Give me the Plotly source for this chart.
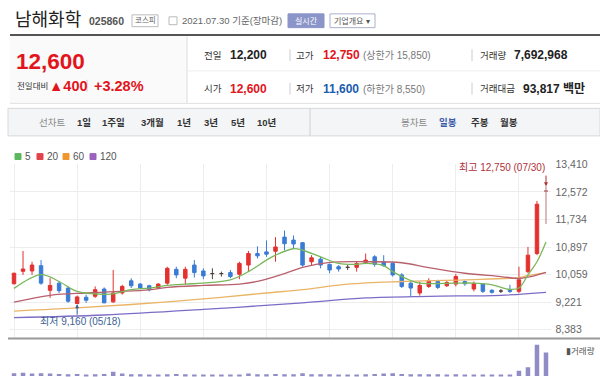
import plotly.graph_objects as go

# ---------------- data ----------------
dates = ["05/07","05/10","05/11","05/12","05/13","05/14","05/17","05/18","05/20","05/21",
         "05/24","05/25","05/26","05/27","05/28","05/31","06/01","06/02","06/03","06/04",
         "06/07","06/08","06/09","06/10","06/11","06/14","06/15","06/16","06/17","06/18",
         "06/21","06/22","06/23","06/24","06/25","06/28","06/29","06/30","07/01","07/02",
         "07/05","07/06","07/07","07/08","07/09","07/12","07/13","07/14","07/15","07/16",
         "07/19","07/20","07/21","07/22","07/23","07/26","07/27","07/28","07/29","07/30"]

opens  = [9780,10160,10170,10330,9580,9800,9650,9180,9370,9400,
          9620,9230,9500,9870,9770,9720,9650,9800,10220,9950,
          10350,10170,10090,10090,10120,10070,10350,10700,10750,10770,
          11200,11110,11030,10450,10530,10370,10300,10280,10280,10430,
          10600,10450,10400,10050,9800,9500,9700,9850,9720,9770,
          9850,9620,9780,9580,9560,9580,9550,10150,10700,12600]
highs  = [10120,10780,10450,10500,9950,9850,9700,9420,9450,9700,
          9670,10200,9750,9950,9800,9750,9800,10300,10300,10300,
          10500,10250,10250,10150,10200,10450,10780,10920,11100,11200,
          11400,11250,11050,10650,10600,10400,10350,10350,10450,10700,
          10650,10650,10450,10100,9850,9850,9950,9900,9870,10080,
          9880,9850,9800,9620,9620,9750,10300,10900,12300,12750]
lows   = [9760,10050,10050,9750,9350,9500,9200,9160,9200,9350,
          9190,9200,9450,9650,9620,9550,9620,9750,9950,9750,
          9970,9920,9920,10000,9950,9920,10150,10550,10600,10450,
          10800,10850,10300,10350,10250,10100,10150,10200,10150,10400,
          10300,10300,10000,9650,9400,9420,9650,9620,9680,9700,
          9720,9550,9500,9480,9500,9500,9500,10100,10650,11600]
closes = [10100,10230,10350,9800,9730,9570,9250,9380,9280,9600,
          9200,9500,9700,9720,9650,9600,9770,10250,10050,10220,
          10120,10020,10090,10090,10000,10400,10700,10630,10680,10900,
          11000,10990,10350,10570,10350,10200,10230,10280,10400,10500,
          10370,10330,10050,9700,9650,9730,9870,9670,9820,10000,
          9780,9790,9550,9520,9560,9550,9900,10650,12200,12600]
volumes = [0.9,1.1,0.8,0.9,0.8,0.7,0.6,0.7,0.5,0.6,
           0.7,1.4,0.8,0.6,0.6,0.5,0.5,0.6,0.7,0.6,
           0.5,0.5,0.4,0.4,0.5,0.5,0.8,0.6,0.6,0.7,
           0.6,0.6,0.9,0.6,0.6,0.6,0.5,0.5,0.5,0.6,
           0.7,0.8,0.9,0.7,0.6,0.6,0.6,0.6,0.5,0.6,
           0.5,0.5,0.5,0.5,0.4,0.5,1.75,2.9,10.2,7.69]   # millions of shares

# moving averages: (date, value)
ma5_dates  = ["05/07","05/12","05/14","05/18","05/24","05/25","05/27","05/31","06/02","06/04",
              "06/08","06/11","06/15","06/17","06/18","06/22","06/23","06/25","06/29","07/01",
              "07/02","07/06","07/07","07/09","07/12","07/16","07/20","07/22","07/26","07/27",
              "07/28","07/29","07/30"]
ma5_vals   = [9640,10060,9850,9550,9460,9470,9600,9650,9730,9770,
              9800,9900,10150,10500,10650,10845,10800,10600,10400,10370,
              10400,10330,10150,9880,9800,9800,9800,9750,9610,9650,
              10050,10450,11050]
ma20_dates = ["05/07","05/13","05/20","05/25","05/31","06/02","06/08","06/14","06/16","06/21",
              "06/23","06/28","07/02","07/08","07/13","07/19","07/23","07/27","07/28","07/30"]
ma20_vals  = [9220,9430,9500,9540,9595,9670,9730,9770,9850,10090,
              10280,10430,10450,10420,10270,10100,10000,9940,9980,10130]
ma60_dates = ["05/07","05/17","05/27","06/08","06/17","06/23","06/30","07/08","07/19","07/27","07/28","07/30"]
ma60_vals  = [8950,9030,9150,9320,9500,9600,9770,9850,9900,9970,10030,10120]
ma120_dates = ["05/07","05/24","06/08","06/23","07/02","07/13","07/23","07/30"]
ma120_vals  = [8750,8830,9000,9200,9350,9400,9430,9520]

price_ticks = [8383, 9221, 10059, 10897, 11734, 12572, 13410]
price_tick_labels = ["8,383", "9,221", "10,059", "10,897", "11,734", "12,572", "13,410"]
grid_dates = ["05/07","05/18","05/28","06/08","06/17","06/28","07/07","07/16","07/27"]

# ---------------- helpers ----------------
W, H = 600, 377
def px(x): return x / W
def py(y): return 1 - y / H

KFONT = "Liberation Sans, Noto Sans CJK KR, sans-serif"
UP, DOWN, DOJI, TODAY = "#e3312f", "#3a7bd5", "#4f4040", "#b97878"

fig = go.Figure()

def split(mask):
    return dict(x=[d for d, m in zip(dates, mask) if m],
                open=[v for v, m in zip(opens, mask) if m],
                high=[v for v, m in zip(highs, mask) if m],
                low=[v for v, m in zip(lows, mask) if m],
                close=[v for v, m in zip(closes, mask) if m])

last = len(dates) - 1
up_mask = [c > o and i != last for i, (o, c) in enumerate(zip(opens, closes))]
dn_mask = [c < o and i != last for i, (o, c) in enumerate(zip(opens, closes))]
dj_mask = [c == o and i != last for i, (o, c) in enumerate(zip(opens, closes))]
td_mask = [i == last for i in range(len(dates))]
for mask, col in ((up_mask, UP), (dn_mask, DOWN), (dj_mask, DOJI), (td_mask, TODAY)):
    fig.add_trace(go.Candlestick(**split(mask), xaxis="x", yaxis="y",
                                 increasing=dict(line=dict(color=col, width=1), fillcolor=col),
                                 decreasing=dict(line=dict(color=col, width=1), fillcolor=col),
                                 showlegend=False, hoverinfo="skip"))

for xs, ys, col in ((ma120_dates, ma120_vals, "#7d6cc6"),
                    (ma60_dates, ma60_vals, "#eab467"),
                    (ma20_dates, ma20_vals, "#b9606e"),
                    (ma5_dates, ma5_vals, "#79b85a")):
    fig.add_trace(go.Scatter(x=xs, y=ys, mode="lines", line=dict(color=col, width=1.3, shape="spline"),
                             xaxis="x", yaxis="y", showlegend=False, hoverinfo="skip"))

fig.add_trace(go.Bar(x=dates, y=volumes, marker=dict(color="#8f8cc6", line=dict(width=0)),
                     width=0.5, xaxis="x2", yaxis="y2", showlegend=False, hoverinfo="skip"))

x_dom = [px(9.5), px(550.5)]
fig.update_layout(
    width=W, height=H, margin=dict(l=0, r=0, t=0, b=0),
    paper_bgcolor="white", plot_bgcolor="white",
    font=dict(family=KFONT, color="#333"),
    boxgap=0.45,
    xaxis=dict(domain=x_dom, type="category", categoryorder="array", categoryarray=dates,
               range=[-0.5, len(dates) - 0.5], rangeslider=dict(visible=False),
               tickvals=grid_dates, showticklabels=False, showgrid=True, gridcolor="#ededed",
               gridwidth=1, zeroline=False, showline=False, ticks=""),
    yaxis=dict(domain=[py(338), py(161)], range=[8112, 13410], side="right",
               tickvals=price_ticks, ticktext=price_tick_labels, showgrid=True, gridcolor="#ededed",
               tickfont=dict(size=10.5, color="#666"), ticks="", zeroline=False, showline=False,
               ticklabelstandoff=4),
    xaxis2=dict(domain=x_dom, type="category", categoryorder="array", categoryarray=dates,
                range=[-0.5, len(dates) - 0.5], matches="x", showticklabels=False, showgrid=False,
                zeroline=False, ticks=""),
    yaxis2=dict(domain=[0, py(343)], range=[-0.3, 10.6], showticklabels=False, showgrid=False,
                zeroline=False, ticks="", anchor="x2"),
)

shapes = []
ann = []
def text(x, y, s, size=11, color="#333", bold=False, anchor="left", family=KFONT):
    if bold:
        s = "<b>" + s + "</b>"
    ann.append(dict(x=px(x), y=py(y), xref="paper", yref="paper", text=s, showarrow=False,
                    xanchor=anchor, yanchor="middle", font=dict(size=size, color=color, family=family)))
def line(x0, y0, x1, y1, color="#ddd", width=1):
    shapes.append(dict(type="line", xref="paper", yref="paper", x0=px(x0), y0=py(y0), x1=px(x1), y1=py(y1),
                       line=dict(color=color, width=width)))
def rect(x0, y0, x1, y1, fill="white", color="#ccc", width=1):
    shapes.append(dict(type="rect", xref="paper", yref="paper", x0=px(x0), y0=py(y0), x1=px(x1), y1=py(y1),
                       fillcolor=fill, line=dict(color=color, width=width), layer="below"))

KS = 9.5  # size of the small korean labels

# header
text(13, 14, "남해화학", size=18, color="#222")
text(87, 15, "025860", size=10.5, color="#555", bold=True)
rect(132, 9, 158, 21, fill="white", color="#bbb")
text(145, 15, "코스피", size=7.5, color="#666", anchor="center")
rect(169, 11, 177, 19, fill="white", color="#bbb")
text(180, 15, "2021.07.30 기준(장마감)", size=9.5, color="#666")
rect(288, 8, 324, 22, fill="#8b95c9", color="#8b95c9")
text(306, 15, "실시간", size=8, color="white", anchor="center")
rect(330, 8, 375, 22, fill="white", color="#a9b0cc")
text(352, 15, "기업개요 ▾", size=8, color="#555", anchor="center")
line(10, 29.5, 600, 29.5, color="#555", width=2)

rect(10, 31, 187, 99, fill="#fafafa", color="#fafafa")
text(14, 56, "12,600", size=22.5, color="#e2141c", bold=True)
text(15, 81, "전일대비", size=8.5, color="#333")
text(47, 81, "▲400", size=14.5, color="#e2141c", bold=True)
line(87, 75, 87, 87, color="#ccc")
text(92, 81, "+3.28%", size=14.5, color="#e2141c", bold=True)
line(187, 31, 187, 99, color="#ddd")
line(187, 66, 600, 66, color="#eee")
line(10, 99, 600, 99, color="#e2e2e2")

text(202, 50, "전일", size=KS, color="#333")
text(228, 50, "12,200", size=12, color="#222", bold=True)
line(290, 44, 290, 56, color="#ccc")
text(294, 50, "고가", size=KS, color="#333")
text(321, 50, "12,750", size=12, color="#e2141c", bold=True)
text(361, 50, "(상한가 15,850)", size=10, color="#777")
line(472, 44, 472, 56, color="#ccc")
text(478, 50, "거래량", size=KS, color="#333")
text(512, 50, "7,692,968", size=12, color="#222", bold=True)

text(202, 84, "시가", size=KS, color="#333")
text(228, 84, "12,600", size=12, color="#e2141c", bold=True)
line(290, 78, 290, 90, color="#ccc")
text(294, 84, "저가", size=KS, color="#333")
text(321, 84, "11,600", size=12, color="#1a5caf", bold=True)
text(361, 84, "(하한가 8,550)", size=10, color="#777")
line(472, 78, 472, 90, color="#ccc")
text(478, 84, "거래대금", size=KS, color="#333")
text(521, 84, "93,817 백만", size=12, color="#222", bold=True)

# toolbar
rect(8, 104, 600, 132, fill="#f4f5f7", color="#d9d9d9")
line(310, 104, 310, 132, color="#d0d0d0")
text(37, 118, "선차트", size=KS, color="#888")
for xx, s in ((75, "1일"), (100, "1주일"), (139, "3개월"), (175, "1년"), (202, "3년"), (229, "5년"), (255, "10년")):
    text(xx, 118, s, size=KS, color="#333", bold=True)
text(399, 118, "봉차트", size=KS, color="#888")
text(437, 118, "일봉", size=KS, color="#3a5ba8", bold=True)
text(469, 118, "주봉", size=KS, color="#333", bold=True)
text(498, 118, "월봉", size=KS, color="#333", bold=True)

# legend
for xx, col, lab in ((15, "#5cb85c", "5"), (37, "#e2434b", "20"), (63, "#f0962f", "60"), (90, "#9a63be", "120")):
    rect(xx, 150, xx + 6, 156, fill=col, color=col)
    text(xx + 8, 153, lab, size=10, color="#555")

# pane separators
line(8, 338, 600, 338, color="#999", width=2)
text(564, 351, "▮거래량", size=8.5, color="#555")

# extremes
ann.append(dict(x="07/30", y=12750, xref="x", yref="y", text="", showarrow=True, ax=0, ay=-12,
                arrowhead=2, arrowsize=0.8, arrowwidth=1, arrowcolor="#b0303a"))
text(547, 164, "최고 12,750 (07/30)", size=10, color="#b0303a", anchor="right")
ann.append(dict(x="05/18", y=9160, xref="x", yref="y", text="", showarrow=True, ax=0, ay=12,
                arrowhead=2, arrowsize=0.8, arrowwidth=1, arrowcolor="#3d5f95"))
text(38, 321, "최저 9,160 (05/18)", size=10, color="#3d5f95")

fig.update_layout(shapes=shapes, annotations=ann)
fig.write_html("out.html", config={"displayModeBar": False},
               post_script="document.body.style.margin='0px';document.body.style.overflow='hidden';")
